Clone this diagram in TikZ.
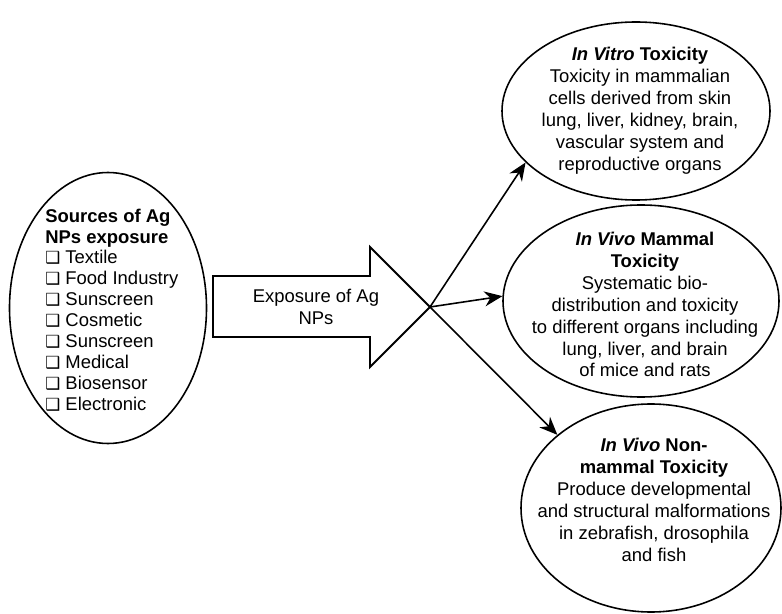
\documentclass[tikz,border=0pt]{standalone}
\usepackage{fontspec}
\setmainfont{Liberation Sans}
\newfontfamily\symfont{DejaVu Sans}
\usepackage{tikz}
\usetikzlibrary{shapes.geometric,arrows.meta,positioning}
\newcommand{\chkbox}{{\symfont\fontsize{9.5}{9.5}\selectfont ❑}}

\begin{document}
\begin{tikzpicture}[
      oval/.style={ellipse,draw=black,line width=0.9pt,inner sep=0pt},
      txt/.style={align=center,font=\fontsize{10.5}{12.5}\selectfont,inner sep=0pt},
      link/.style={line width=0.9pt,-{Stealth[length=0.36cm,width=0.3cm]}}
    ]
      \useasboundingbox (0,0) rectangle (15.64,12.26);
      % Sources
      \node[oval,minimum width=3.94cm,minimum height=5.42cm] (src) at (2.16,6.10) {};
      \node[txt,align=left,anchor=west,font=\fontsize{10.5}{11.9}\selectfont] (srctxt) at (0.90,6.06)
        {\textbf{Sources of Ag}\\\textbf{NPs exposure}\\
         \chkbox\ Textile\\\chkbox\ Food Industry\\\chkbox\ Sunscreen\\\chkbox\ Cosmetic\\
         \chkbox\ Sunscreen\\\chkbox\ Medical\\\chkbox\ Biosensor\\\chkbox\ Electronic};
      % Exposure arrow
      \draw[line width=1.1pt,line join=miter]
        (4.26,6.74) -- (7.40,6.74) -- (7.40,7.32) -- (8.60,6.12) -- (7.40,4.92) -- (7.40,5.52)
        -- (4.26,5.52) -- cycle;
      \coordinate (tip) at (8.60,6.12);
      \node[txt] (expo) at (6.32,6.12) {Exposure of Ag\\NPs};
      % Effects
      \node[oval,minimum width=5.36cm,minimum height=3.56cm] (vitro) at (12.72,10.04) {};
      \node[txt] (vitrotxt) at (12.80,10.04)
        {\textbf{\textit{In Vitro} Toxicity}\\Toxicity in mammalian\\cells derived from skin\\
         lung, liver, kidney, brain,\\vascular system and\\reproductive organs};
      \node[oval,minimum width=5.52cm,minimum height=3.84cm] (mammal) at (12.82,6.24) {};
      \node[txt] (mammaltxt) at (12.90,6.17)
        {\textbf{\textit{In Vivo} Mammal}\\\textbf{Toxicity}\\Systematic bio-\\distribution and toxicity\\
         to different organs including\\lung, liver, and brain\\of mice and rats};
      \node[oval,minimum width=5.20cm,minimum height=4.16cm] (nonmammal) at (13.02,2.10) {};
      \node[txt] (nonmammaltxt) at (13.08,2.26)
        {\textbf{\textit{In Vivo} Non-}\\\textbf{mammal Toxicity}\\Produce developmental\\
         and structural malformations\\in zebrafish, drosophila\\and fish};
      % Links
      \draw[link] (tip) -- (vitro.205);
      \draw[link] (tip) -- (mammal.178);
      \draw[link] (tip) -- (nonmammal.142);
    \end{tikzpicture}
\end{document}
